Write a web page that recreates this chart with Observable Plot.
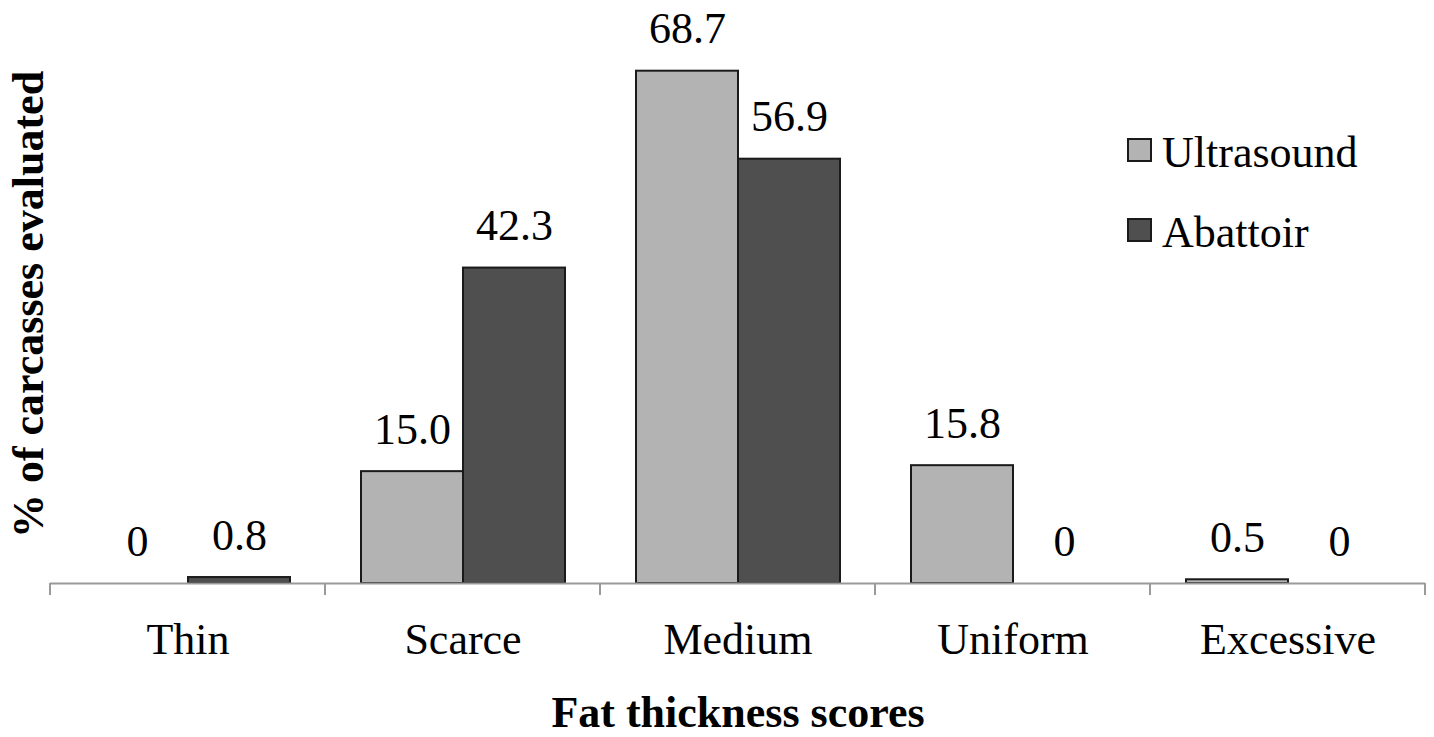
<!DOCTYPE html>
<html>
<head>
<meta charset="utf-8">
<script src="https://cdn.jsdelivr.net/npm/d3@7"></script>
<script src="https://cdn.jsdelivr.net/npm/@observablehq/plot@0.6"></script>
<style>
  html, body { margin: 0; padding: 0; background: #fff; }
  #wrap { position: relative; width: 1434px; height: 737px; font-family: "Liberation Serif", "Times New Roman", serif; }
  .legend { position: absolute; left: 1127px; }
  .legend .item { position: absolute; left: 0; white-space: nowrap; font-size: 44px; line-height: 44px; color: #000; }
  .legend .sw { position: absolute; left: 0; width: 25px; height: 24px; box-sizing: border-box; border: 2px solid #1a1a1a; }
  .legend .lab { position: absolute; left: 35px; }
</style>
</head>
<body>
<div id="wrap"></div>
<script>
const categories = ["Thin", "Scarce", "Medium", "Uniform", "Excessive"];
const series = ["Ultrasound", "Abattoir"];
const ultrasound = [0, 15.0, 68.7, 15.8, 0.5];
const abattoir = [0.8, 42.3, 56.9, 0, 0];
const seriesColors = ["#b3b3b3", "#4f4f4f"];
const xTitle = "Fat thickness scores";
const yTitle = "% of carcasses evaluated";

const data = categories.flatMap((c, i) => [
  {category: c, series: series[0], value: ultrasound[i]},
  {category: c, series: series[1], value: abattoir[i]}
]);
const fmt = v => v === 0 ? "0" : v.toFixed(1);

const plot = Plot.plot({
  width: 1434,
  height: 737,
  marginLeft: 50,
  marginRight: 9,
  marginTop: 61,
  marginBottom: 154,
  style: {fontFamily: "'Liberation Serif', 'Times New Roman', serif", fontSize: "44px", color: "#000", background: "#fff"},
  fx: {domain: categories, padding: 0},
  x: {domain: series, paddingInner: 0, paddingOuter: 0.335, axis: null},
  y: {domain: [0, 70]},
  color: {domain: series, range: seriesColors},
  marks: [
    Plot.barY(data, {fx: "category", x: "series", y: "value", fill: "series", stroke: "#1a1a1a", strokeWidth: 2, filter: d => d.value > 0}),
    Plot.ruleY([0], {stroke: "#9a9a9a", strokeWidth: 2}),
    Plot.text(data, {fx: "category", x: "series", y: "value", text: d => fmt(d.value), lineAnchor: "bottom", dy: -28, fontSize: 44, fill: "#000"}),
    Plot.axisFx({anchor: "bottom", tickSize: 0, tickPadding: 39, fontSize: 44, label: null}),
    Plot.axisFx({anchor: "bottom", ticks: [], tickSize: 0, label: xTitle, labelAnchor: "center", labelOffset: 143, fontWeight: "bold", fontSize: 44}),
    Plot.axisY({anchor: "left", ticks: [], tickSize: 0, label: yTitle, labelAnchor: "center", labelOffset: 39, labelArrow: false, fontWeight: "bold", fontSize: 44})
  ]
});

const wrap = document.getElementById("wrap");
wrap.appendChild(plot);

// boundary ticks between categories, from the fx scale
const fxs = plot.scale("fx");
const y0 = plot.scale("y").apply(0);
const starts = categories.map(c => fxs.apply(c));
const bounds = starts.concat([starts[starts.length - 1] + fxs.bandwidth]);
d3.select(plot).append("g")
  .attr("stroke", "#9a9a9a").attr("stroke-width", 2)
  .selectAll("line").data(bounds).join("line")
  .attr("x1", d => d).attr("x2", d => d)
  .attr("y1", y0).attr("y2", y0 + 12);

// nudge the y-axis title upward a little, as in the reference
d3.select(plot).selectAll("text").each(function() {
  if (this.textContent === yTitle) {
    const parent = this.parentNode;
    const g = document.createElementNS("http://www.w3.org/2000/svg", "g");
    g.setAttribute("transform", "translate(0,-18)");
    parent.insertBefore(g, this);
    g.appendChild(this);
  }
});

// legend
const legend = document.createElement("div");
legend.className = "legend";
legend.style.top = "0px";
const tops = [131, 211];
series.forEach((s, i) => {
  const item = document.createElement("div");
  item.className = "item";
  item.style.top = tops[i] + "px";
  const sw = document.createElement("div");
  sw.className = "sw";
  sw.style.background = seriesColors[i];
  sw.style.top = "7px";
  const lab = document.createElement("span");
  lab.className = "lab";
  lab.textContent = s;
  item.appendChild(sw);
  item.appendChild(lab);
  legend.appendChild(item);
});
wrap.appendChild(legend);
</script>
</body>
</html>
